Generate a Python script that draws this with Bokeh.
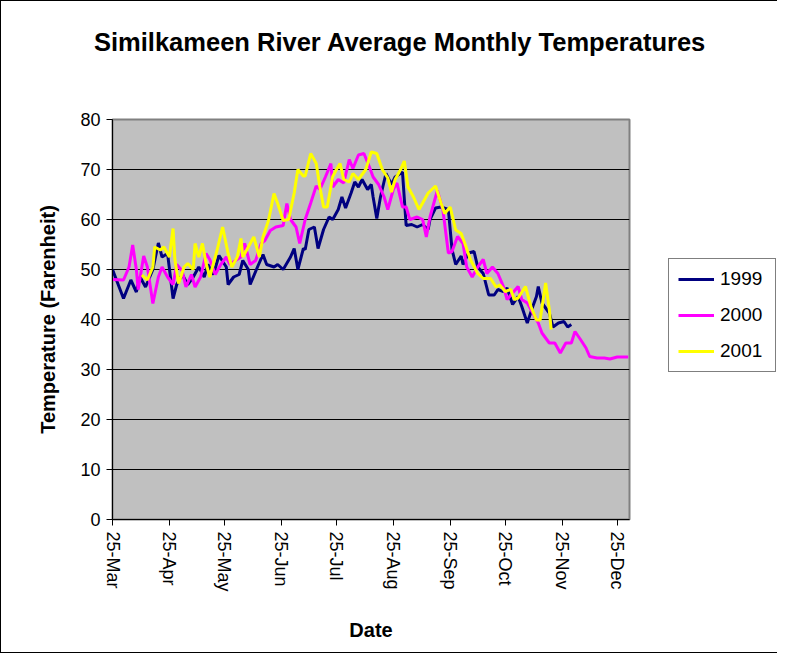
import pandas as pd
from bokeh.plotting import figure
from bokeh.models import (Range1d, FixedTicker, DatetimeTickFormatter, Legend, LegendItem,
                          ColumnDataSource, Div)
from bokeh.layouts import column, row
from bokeh.embed import file_html
from bokeh.resources import INLINE

# ---- data: day offsets from 25-Mar and temperatures (F) ----
start_date = "2000-03-25"
days_1999 = [0, 6, 10, 13, 15, 18, 22, 25, 27, 30, 33, 35, 38, 41, 44, 47, 50, 52, 55, 58,
             62, 63, 66, 69, 71, 74, 75, 79, 82, 84, 88, 90, 93, 97, 99, 101, 104, 105, 107, 110,
             112, 115, 118, 120, 123, 125, 127, 130, 132, 134, 136, 139, 141, 142, 144, 146, 149,
             152, 154, 158, 160, 163, 166, 169, 172, 173, 176, 179, 183, 185, 187, 190, 191, 194,
             197, 199, 202, 205, 208, 210, 213, 215, 218, 221, 223, 226, 229, 231, 232, 234, 238,
             240, 243, 246, 248, 250]
temp_1999 = [50, 44.2, 47.9, 45.5, 48.5, 46.5, 50, 55.3, 52.5, 53.2, 44.2, 47, 49, 47, 48.5, 50.5,
             48.5, 51, 49, 52.8, 50.5, 47, 48.5, 49, 51.8, 50, 47, 50.5, 53, 51, 50.5, 51, 50, 52.5,
             54.2, 50, 54.2, 54, 58, 58.5, 54.2, 58, 60.5, 60, 62, 64.5, 62.3, 65.3, 67.5, 66.5, 68,
             66, 67, 64.5, 60.2, 64.5, 69.2, 67, 68.5, 69.5, 58.8, 59, 58.5, 59, 58, 60, 62.3, 62.5,
             62, 54, 51, 52.7, 51, 53.3, 53.6, 50.5, 49.2, 44.9, 44.9, 46, 45.6, 46.3, 43, 44.6,
             42.6, 39.3, 42.6, 44.6, 46.6, 43.3, 41.3, 38.5, 39.3, 39.6, 38.5, 39]

days_2000 = [0, 6, 9, 11, 13, 14, 17, 19, 22, 25, 27, 30, 33, 35, 38, 40, 43, 45, 48, 51, 53, 56,
             59, 62, 64, 67, 70, 72, 75, 78, 81, 83, 86, 89, 93, 95, 97, 100, 102, 105, 108, 111,
             113, 116, 119, 120, 123, 126, 129, 131, 134, 137, 140, 142, 145, 148, 150, 153, 155,
             158, 160, 162, 166, 169, 171, 173, 177, 180, 183, 185, 188, 191, 193, 196, 199, 202,
             204, 207, 210, 213, 215, 218, 221, 223, 226, 229, 232, 234, 238, 241, 244, 247, 250,
             252, 255, 258, 260, 264, 268, 271, 275, 278, 281]
temp_2000 = [48, 47.9, 50.5, 54.9, 50, 46, 52.7, 50.5, 43.2, 48.5, 50.5, 48.5, 47, 51, 49.7, 46.5,
             49, 46.5, 48.5, 53.2, 52, 49, 51, 52.5, 51, 51.8, 52.5, 55.2, 51, 51.8, 55.2, 55.8,
             57.8, 58.5, 58.8, 63.2, 60, 58.5, 55.2, 60, 63.3, 66.7, 66, 68.5, 71.2, 66.5, 68, 67.3,
             72, 70.2, 72.9, 73.2, 70.5, 68.5, 67, 64.5, 62, 66, 67.3, 62.5, 62.5, 60, 60.5, 60,
             56.5, 60.5, 65.8, 62, 53.3, 53.6, 56.6, 55.2, 50.5, 48.5, 50.5, 52, 49.2, 50.5, 49.2,
             46.6, 44, 45.3, 46.6, 44, 43.3, 41.3, 39.3, 37.3, 35.3, 35.3, 33.3, 35.3, 35.3, 37.6,
             36, 34.3, 32.6, 32.3, 32.3, 32.1, 32.5, 32.5, 32.5]

days_2001 = [16, 19, 22, 23, 26, 28, 31, 33, 34, 36, 39, 41, 44, 45, 47, 49, 51, 53, 57, 60, 63,
             65, 68, 70, 71, 74, 77, 80, 82, 85, 88, 90, 93, 96, 99, 101, 104, 105, 108, 111, 113,
             115, 117, 120, 122, 124, 126, 129, 131, 134, 138, 141, 144, 147, 150, 152, 154, 157,
             159, 161, 164, 167, 169, 172, 176, 179, 181, 184, 187, 190, 192, 195, 199, 202, 206,
             209, 211, 214, 217, 219, 221, 225, 228, 231, 233, 236, 238, 239]
temp_2001 = [48.9, 47.9, 50.5, 54.5, 53.9, 54.5, 52.5, 58.2, 52, 47.2, 50.5, 51.2, 50, 55.2, 52.5,
             55.2, 51.2, 48.5, 53.9, 58.5, 53.2, 50.5, 52.5, 56.2, 52.5, 54.5, 56.5, 52.5, 56.5,
             59.8, 65.2, 63.2, 59.8, 60, 65.3, 70, 68.7, 68.7, 73.2, 71.2, 66.5, 62.5, 62.5, 68.6,
             70, 71.2, 68, 67.5, 69.2, 68, 70, 73.5, 73.2, 70, 68.3, 65.5, 68, 70, 71.7, 66.5, 64.5,
             62, 63.3, 65.3, 66.7, 63.3, 61.2, 62.5, 57.9, 57.2, 55.2, 52, 49.2, 48.2, 48.2, 46.5,
             46.9, 45.6, 46, 44, 44.3, 46.6, 42.6, 39.9, 39.9, 47.3, 42, 38]

series_names = ["1999", "2000", "2001"]
series_colors = ["#000080", "#FF00FF", "#FFFF00"]
tick_months = ["2000-03-25", "2000-04-25", "2000-05-25", "2000-06-25", "2000-07-25",
               "2000-08-25", "2000-09-25", "2000-10-25", "2000-11-25", "2000-12-25"]
y_ticks = [0, 10, 20, 30, 40, 50, 60, 70, 80]
chart_title = "Similkameen River Average Monthly Temperatures"

base = pd.Timestamp(start_date)


def to_dates(days):
    return [base + pd.Timedelta(days=d) for d in days]


# ---- title ----
title_div = Div(
    text=('<div style="position:relative; left:93px; top:27px; white-space:nowrap; '
          'font-family:\'Liberation Sans\', Arial, sans-serif; font-size:25.5px; '
          'font-weight:bold; color:black; line-height:1.15;">' + chart_title + '</div>'),
    width=776, height=90, margin=0)

# ---- main chart ----
p = figure(width=630, height=561, output_backend="svg", toolbar_location=None,
           x_axis_type="datetime",
           x_range=Range1d(base, base + pd.Timedelta(days=281.7)),
           y_range=Range1d(0, 80),
           min_border_left=111, min_border_top=28, min_border_right=2, min_border_bottom=133)

p.background_fill_color = "#C0C0C0"
p.border_fill_color = "white"
p.outline_line_color = "#808080"
p.outline_line_width = 2

p.xgrid.grid_line_color = None
p.ygrid.grid_line_color = "black"
p.ygrid.grid_line_width = 1
p.ygrid.ticker = FixedTicker(ticks=y_ticks)

p.yaxis.ticker = FixedTicker(ticks=y_ticks)
p.xaxis.ticker = FixedTicker(ticks=[pd.Timestamp(t).value / 1e6 for t in tick_months])
fmt = "%d-%b"
p.xaxis.formatter = DatetimeTickFormatter(microseconds=fmt, milliseconds=fmt, seconds=fmt,
                                          minsec=fmt, minutes=fmt, hourmin=fmt, hours=fmt,
                                          days=fmt, months=fmt, years=fmt)
p.xaxis.major_label_orientation = "vertical"
p.xaxis.minor_tick_line_color = None
p.yaxis.minor_tick_line_color = None
for ax in (p.xaxis, p.yaxis):
    ax.axis_line_color = "black"
    ax.axis_line_width = 1
    ax.major_tick_line_color = "black"
    ax.major_tick_in = 0
    ax.major_tick_out = 6
    ax.major_label_text_font = "Liberation Sans"
    ax.major_label_text_font_size = "18px"
    ax.major_label_text_color = "black"
    ax.axis_label_text_font = "Liberation Sans"
    ax.axis_label_text_font_size = "20px"
    ax.axis_label_text_font_style = "bold"
    ax.axis_label_text_color = "black"
p.xaxis.major_label_standoff = 6
p.yaxis.major_label_standoff = 6
p.xaxis.axis_label = "Date"
p.yaxis.axis_label = "Temperature (Farenheit)"
p.xaxis.axis_label_standoff = 24
p.yaxis.axis_label_standoff = 18

sources = []
for name, col, days, temps in zip(series_names, series_colors,
                                  [days_1999, days_2000, days_2001],
                                  [temp_1999, temp_2000, temp_2001]):
    src = ColumnDataSource(dict(x=to_dates(days), y=temps))
    sources.append(src)
    p.line("x", "y", source=src, line_color=col, line_width=3)

# ---- legend panel (its own small canvas to the right of the plot) ----
lg = figure(width=146, height=561, output_backend="svg", toolbar_location=None,
            x_range=Range1d(0, 1), y_range=Range1d(0, 1),
            x_axis_location=None, y_axis_location=None,
            min_border_left=0, min_border_right=0, min_border_top=0, min_border_bottom=0)
lg.grid.visible = False
lg.outline_line_color = None
lg.background_fill_color = "white"
lg.border_fill_color = "white"
# key renderers share the series data (they fall outside this panel's range, so only the key shows)
key_renderers = [lg.line("x", "y", source=s, line_color=c, line_width=3)
                 for s, c in zip(sources, series_colors)]
legend = Legend(items=[LegendItem(label=n, renderers=[r]) for n, r in zip(series_names, key_renderers)],
                location=(37, 147), orientation="vertical",
                label_text_font="Liberation Sans", label_text_font_size="19px",
                label_text_color="black", border_line_color="black", border_line_width=1,
                background_fill_color="white", background_fill_alpha=1,
                glyph_width=36, glyph_height=18, label_height=18, label_width=46,
                spacing=14, padding=9, margin=0, label_standoff=6)
lg.add_layout(legend, "center")

layout = column(title_div, row(p, lg, spacing=0), spacing=0)
layout.styles = {"border-left": "1px solid black", "border-top": "1px solid black",
                 "border-bottom": "1px solid black", "background-color": "white"}

open("out.html", "w").write(file_html(layout, INLINE))
